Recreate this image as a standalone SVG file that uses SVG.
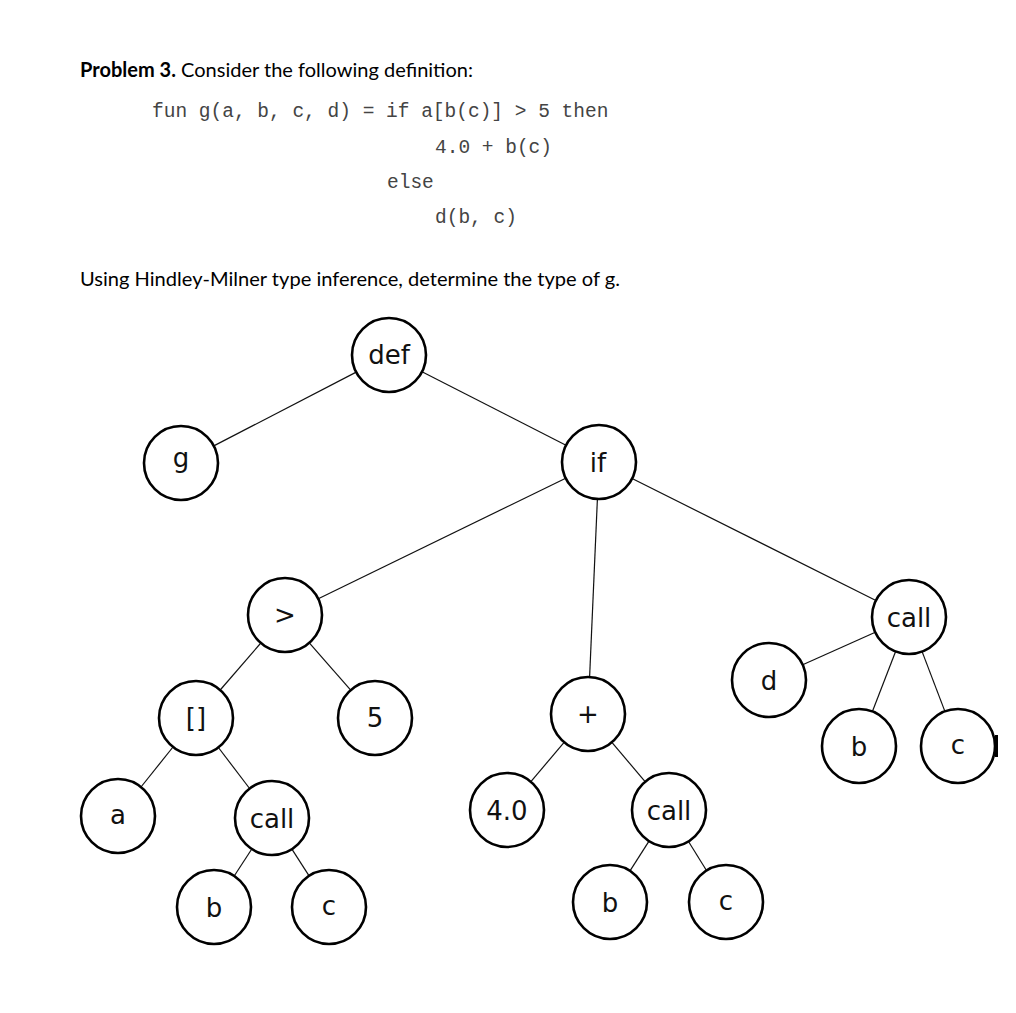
<svg xmlns="http://www.w3.org/2000/svg" width="1016" height="1013" viewBox="0 0 1016 1013">
<style>
.hdr{font-family:Lato,"Liberation Sans",sans-serif;font-size:20px;fill:#000}
.code{font-family:"Liberation Mono","Courier New",monospace;font-size:19.5px;fill:#444}
.node circle{fill:#fff;stroke:#000;stroke-width:2.6}
.node text{font-family:"DejaVu Sans",sans-serif;font-size:26px;fill:#111;text-anchor:middle}
#edges line{stroke:#111;stroke-width:1.2}
</style>
<rect width="1016" height="1013" fill="#fff"/>
<text class="hdr" x="80" y="77" textLength="393" lengthAdjust="spacingAndGlyphs"><tspan font-weight="bold">Problem 3.</tspan> Consider the following definition:</text>
<text class="code" x="152" y="117">fun g(a, b, c, d) = if a[b(c)] &gt; 5 then</text>
<text class="code" x="435" y="153">4.0 + b(c)</text>
<text class="code" x="387" y="188">else</text>
<text class="code" x="435" y="223">d(b, c)</text>
<text class="hdr" x="80" y="286" textLength="540" lengthAdjust="spacingAndGlyphs">Using Hindley-Milner type inference, determine the type of g.</text>
<g id="edges">
<line x1="356.2" y1="372.1" x2="213.8" y2="445.9"/>
<line x1="422" y1="371.8" x2="566" y2="445.2"/>
<line x1="565.7" y1="478.2" x2="318.3" y2="598.8"/>
<line x1="597.4" y1="499" x2="589.6" y2="677"/>
<line x1="632.1" y1="478.5" x2="875.9" y2="600.5"/>
<line x1="260.8" y1="643" x2="220.2" y2="690"/>
<line x1="309.3" y1="642.9" x2="350.7" y2="690.1"/>
<line x1="173" y1="747" x2="141" y2="787"/>
<line x1="218.4" y1="747.5" x2="249.6" y2="788.5"/>
<line x1="251.8" y1="849" x2="234.2" y2="876"/>
<line x1="291.9" y1="849.2" x2="309.1" y2="875.8"/>
<line x1="564.1" y1="742.3" x2="530.9" y2="781.7"/>
<line x1="611.9" y1="742.3" x2="645.1" y2="781.7"/>
<line x1="649" y1="841.1" x2="630" y2="870.9"/>
<line x1="688.5" y1="841.5" x2="706.5" y2="870.5"/>
<line x1="875.3" y1="632.2" x2="802.7" y2="664.8"/>
<line x1="895.6" y1="651.5" x2="872.4" y2="711.5"/>
<line x1="922.1" y1="651.6" x2="944.9" y2="711.4"/>
</g>
<g id="n-def" class="node"><circle cx="389" cy="355" r="37"/><text x="389" y="364">def</text></g>
<g id="n-g" class="node"><circle cx="181" cy="463" r="37"/><text x="181" y="467">g</text></g>
<g id="n-if" class="node"><circle cx="599" cy="462" r="37"/><text x="598" y="472">if</text></g>
<g id="n-gt" class="node"><circle cx="285" cy="615" r="37"/><text x="285" y="624">&gt;</text></g>
<g id="n-idx" class="node"><circle cx="196" cy="718" r="37"/><text x="196" y="727">[]</text></g>
<g id="n-5" class="node"><circle cx="375" cy="718" r="37"/><text x="375" y="727">5</text></g>
<g id="n-a" class="node"><circle cx="118" cy="816" r="37"/><text x="118" y="824">a</text></g>
<g id="n-call1" class="node"><circle cx="272" cy="818" r="37"/><text x="272" y="828">call</text></g>
<g id="n-b1" class="node"><circle cx="214" cy="907" r="37"/><text x="214" y="917">b</text></g>
<g id="n-c1" class="node"><circle cx="329" cy="907" r="37"/><text x="329" y="915">c</text></g>
<g id="n-plus" class="node"><circle cx="588" cy="714" r="37"/><text x="588" y="723">+</text></g>
<g id="n-40" class="node"><circle cx="507" cy="810" r="37"/><text x="507" y="820">4.0</text></g>
<g id="n-call2" class="node"><circle cx="669" cy="810" r="37"/><text x="669" y="820">call</text></g>
<g id="n-b2" class="node"><circle cx="610" cy="902" r="37"/><text x="610" y="912">b</text></g>
<g id="n-c2" class="node"><circle cx="726" cy="902" r="37"/><text x="726" y="910">c</text></g>
<g id="n-call3" class="node"><circle cx="909" cy="617" r="37"/><text x="909" y="627">call</text></g>
<g id="n-d" class="node"><circle cx="769" cy="680" r="37"/><text x="769" y="690">d</text></g>
<g id="n-b3" class="node"><circle cx="859" cy="746" r="37"/><text x="859" y="756">b</text></g>
<g id="n-c3" class="node"><circle cx="958" cy="746" r="37"/><text x="958" y="754">c</text></g>
<rect x="995" y="735" width="3" height="22" fill="#000"/>
</svg>
